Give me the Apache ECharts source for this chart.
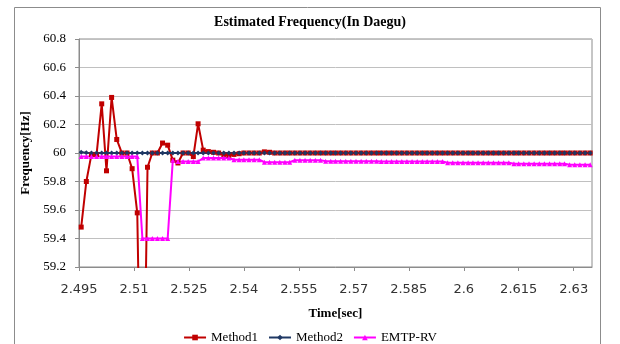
<!DOCTYPE html>
<html>
<head>
<meta charset="utf-8">
<script src="https://cdn.jsdelivr.net/npm/echarts@6/dist/echarts.min.js"></script>
<style>html,body{margin:0;padding:0;background:#fff;}#c{width:620px;height:344px;}</style>
</head>
<body>
<div id="c"></div>
<script>
// Sample times [sec]
const times = [
2.4956,2.4970,2.4984,2.4998,2.5012,2.5025,2.5039,2.5053,2.5067,2.5081,
2.5095,2.5109,2.5123,2.5137,2.5150,2.5164,2.5178,2.5192,2.5206,2.5220,
2.5234,2.5248,2.5262,2.5275,2.5289,2.5303,2.5317,2.5331,2.5345,2.5359,
2.5373,2.5387,2.5400,2.5414,2.5428,2.5442,2.5456,2.5470,2.5484,2.5498,
2.5512,2.5525,2.5539,2.5553,2.5567,2.5581,2.5595,2.5609,2.5623,2.5637,
2.5650,2.5664,2.5678,2.5692,2.5706,2.5720,2.5734,2.5748,2.5762,2.5775,
2.5789,2.5803,2.5817,2.5831,2.5845,2.5859,2.5873,2.5887,2.5900,2.5914,
2.5928,2.5942,2.5956,2.5970,2.5984,2.5998,2.6012,2.6025,2.6039,2.6053,
2.6067,2.6081,2.6095,2.6109,2.6123,2.6137,2.6150,2.6164,2.6178,2.6192,
2.6206,2.6220,2.6234,2.6248,2.6262,2.6275,2.6289,2.6303,2.6317,2.6331,
2.6345
];
const method1 = [
59.48,59.80,59.99,59.99,60.345,59.875,60.39,60.095,60.0,60.0,
59.89,59.58,57.5,59.90,60.0,60.0,60.07,60.055,59.95,59.93,
60.0,60.0,59.975,60.205,60.02,60.01,60.005,60.0,59.99,59.985,
59.99,59.995,60.0,60.0,60.0,60.0,60.008,60.005,60.0,60.0,
60.0,60.0,60.0,60.0,60.0,60.0,60.0,60.0,60.0,60.0,
60.0,60.0,60.0,60.0,60.0,60.0,60.0,60.0,60.0,60.0,
60.0,60.0,60.0,60.0,60.0,60.0,60.0,60.0,60.0,60.0,
60.0,60.0,60.0,60.0,60.0,60.0,60.0,60.0,60.0,60.0,
60.0,60.0,60.0,60.0,60.0,60.0,60.0,60.0,60.0,60.0,
60.0,60.0,60.0,60.0,60.0,60.0,60.0,60.0,60.0,60.0,
60.0
];
const method2 = [
60.006,60.002,60.0,60.0,60.0,60.0,60.0,60.0,60.0,60.0,
60.0,60.0,60.0,60.0,60.0,60.0,60.0,60.0,60.0,60.0,
60.0,60.0,60.0,60.0,60.0,60.0,60.0,60.0,60.0,60.0,
60.0,60.0,60.0,60.0,60.0,60.0,60.0,60.0,60.0,60.0,
60.0,60.0,60.0,60.0,60.0,60.0,60.0,60.0,60.0,60.0,
60.0,60.0,60.0,60.0,60.0,60.0,60.0,60.0,60.0,60.0,
60.0,60.0,60.0,60.0,60.0,60.0,60.0,60.0,60.0,60.0,
60.0,60.0,60.0,60.0,60.0,60.0,60.0,60.0,60.0,60.0,
60.0,60.0,60.0,60.0,60.0,60.0,60.0,60.0,60.0,60.0,
60.0,60.0,60.0,60.0,60.0,60.0,60.0,60.0,60.0,60.0,
60.0
];
const emtp = [
59.975,59.975,59.975,59.975,59.975,59.975,59.975,59.975,59.975,59.975,
59.975,59.975,59.40,59.40,59.40,59.40,59.40,59.40,59.95,59.94,
59.94,59.94,59.94,59.94,59.965,59.965,59.965,59.965,59.965,59.965,
59.953,59.953,59.953,59.953,59.953,59.953,59.935,59.935,59.935,59.935,
59.935,59.935,59.95,59.95,59.95,59.95,59.95,59.95,59.942,59.942,
59.942,59.942,59.942,59.942,59.942,59.942,59.942,59.942,59.942,59.94,
59.94,59.94,59.94,59.94,59.94,59.94,59.94,59.94,59.94,59.94,
59.94,59.94,59.932,59.932,59.932,59.932,59.932,59.932,59.932,59.932,
59.932,59.932,59.932,59.932,59.932,59.925,59.925,59.925,59.925,59.925,
59.925,59.925,59.925,59.925,59.925,59.925,59.918,59.918,59.918,59.918,
59.918
];
const seriesNames = ['Method1','Method2','EMTP-RV'];
const xMin = 2.495, xMax = 2.635, xStep = 0.015;
const yMin = 59.2, yMax = 60.8, yStep = 0.2;

const pair = arr => times.map((t, i) => [t, arr[i]]);
const serif = '"Liberation Serif", "Times New Roman", serif';

const chart = echarts.init(document.getElementById('c'), null, {renderer: 'canvas'});
chart.setOption({
  animation: false,
  backgroundColor: '#fff',
  graphic: [{
    type: 'rect', left: 12, top: 5, z: -10, silent: true,
    shape: {width: 586, height: 360},
    style: {fill: 'none', stroke: '#8c8c8c', lineWidth: 1}
  }],
  title: {
    text: 'Estimated Frequency(In Daegu)',
    left: 'center', top: 10,
    textStyle: {fontFamily: serif, fontWeight: 'bold', fontSize: 14, color: '#000'}
  },
  legend: {
    top: 326, left: 'center',
    itemWidth: 22, itemHeight: 7, itemGap: 10,
    textStyle: {fontFamily: serif, fontSize: 13, color: '#000'},
    data: seriesNames
  },
  grid: {left: 79, right: 28, top: 39, bottom: 77, show: true, borderColor: '#8c8c8c', borderWidth: 1},
  xAxis: {
    type: 'value', min: xMin, max: xMax, interval: xStep,
    name: 'Time[sec]', nameLocation: 'middle', nameGap: 40,
    nameTextStyle: {fontFamily: serif, fontWeight: 'bold', fontSize: 13, color: '#000'},
    axisLine: {show: true, lineStyle: {color: '#8c8c8c'}},
    axisTick: {show: true, inside: false, length: 4, lineStyle: {color: '#8c8c8c'}},
    axisLabel: {
      showMaxLabel: false, margin: 16, fontSize: 13,
      fontFamily: '"DejaVu Sans", sans-serif', color: '#333',
      formatter: v => String(+(+v).toFixed(3))
    },
    splitLine: {show: false}
  },
  yAxis: {
    type: 'value', min: yMin, max: yMax, interval: yStep,
    name: 'Frequency[Hz]', nameLocation: 'middle', nameGap: 44, nameRotate: 90,
    nameTextStyle: {fontFamily: serif, fontWeight: 'bold', fontSize: 13, color: '#000'},
    axisLine: {show: true, lineStyle: {color: '#8c8c8c'}},
    axisTick: {show: true, inside: false, length: 4, lineStyle: {color: '#8c8c8c'}},
    axisLabel: {
      margin: 13, fontSize: 13, fontFamily: serif, color: '#000',
      formatter: v => String(+(+v).toFixed(1))
    },
    splitLine: {show: true, lineStyle: {color: '#c0c0c0', width: 1}}
  },
  series: [
    {
      name: seriesNames[0], type: 'line', data: pair(method1),
      symbol: 'rect', symbolSize: 5, showAllSymbol: true, clip: true,
      itemStyle: {color: '#c00000'}, lineStyle: {color: '#c00000', width: 2}
    },
    {
      name: seriesNames[1], type: 'line', data: pair(method2),
      symbol: 'diamond', symbolSize: 5, showAllSymbol: true, clip: true,
      itemStyle: {color: '#1f3864'}, lineStyle: {color: '#1f3864', width: 2}
    },
    {
      name: seriesNames[2], type: 'line', data: pair(emtp),
      symbol: 'triangle', symbolSize: 5, showAllSymbol: true, clip: true,
      itemStyle: {color: '#ff00ff'}, lineStyle: {color: '#ff00ff', width: 2}
    }
  ]
});
</script>
</body>
</html>
